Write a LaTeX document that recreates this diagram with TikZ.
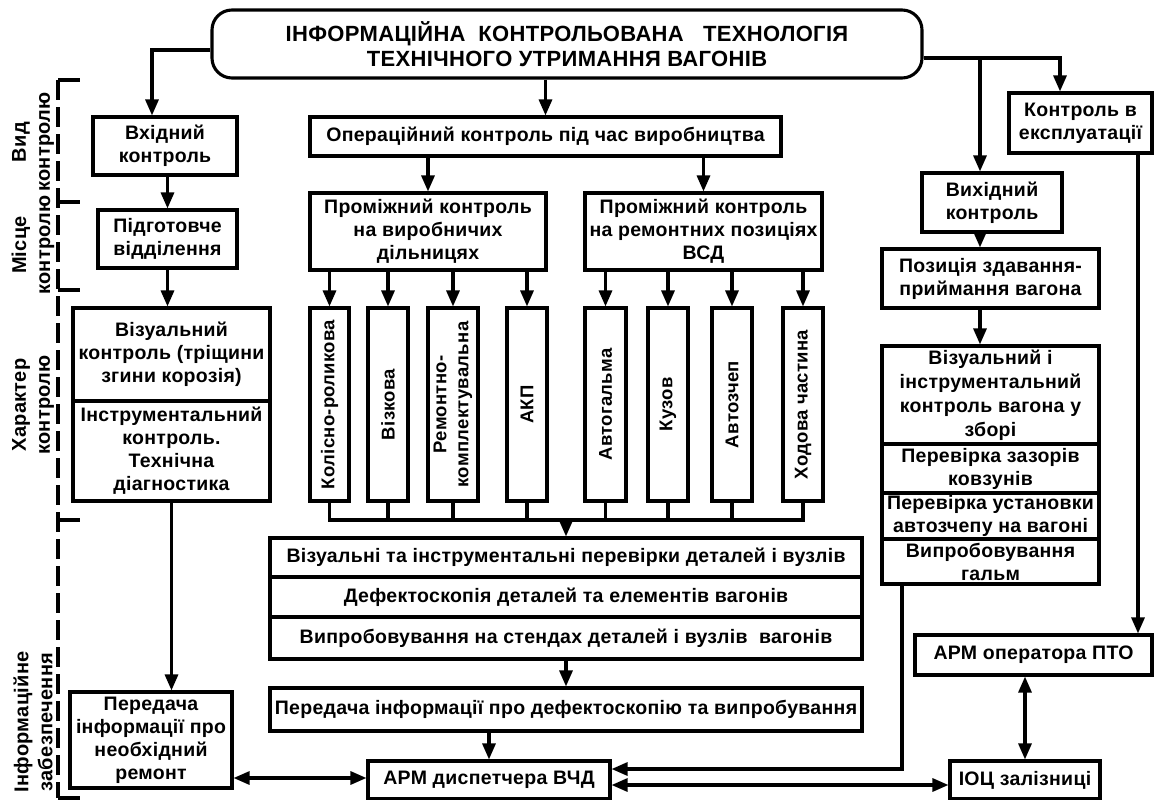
\documentclass[tikz,border=0pt]{standalone}
\usepackage{fontspec}
\setmainfont{Liberation Sans}[LetterSpace=1.5]
\usetikzlibrary{arrows.meta}
\begin{document}
\begin{tikzpicture}[x=1pt,y=-1pt,
  every node/.style={font=\bfseries\fontsize{19.5}{23}\selectfont, inner sep=0pt, align=center},
  box/.style n args={2}{draw, line width=3.1pt, minimum width=#1, minimum height=#2},
  vtext/.style={font=\bfseries\fontsize{18.5}{22}\selectfont},
  conn/.style={line width=3.1pt},
  arr/.style={line width=3.1pt, -{Triangle[length=16pt,width=13pt]}},
  darr/.style={line width=3.1pt, {Triangle[length=16pt,width=13pt]}-{Triangle[length=16pt,width=13pt]}},
  side/.style={rotate=90, font=\bfseries\fontsize{20}{24}\selectfont},
  bracket/.style={line width=3.1pt}
]
\useasboundingbox (0,0) rectangle (1154,800);

% title
\node[box={710pt}{68pt}, rounded corners=20pt, font=\bfseries\fontsize{22}{25}\selectfont] (title) at (567,44)
  {ІНФОРМАЦІЙНА\ \ КОНТРОЛЬОВАНА\ \ \ ТЕХНОЛОГІЯ\\ТЕХНІЧНОГО УТРИМАННЯ ВАГОНІВ};

% left column
\node[box={144pt}{58pt}] (vhid) at (165,146) {Вхідний\\контроль};
\node[box={139pt}{58pt}] (pidg) at (167.5,239) {Підготовче\\відділення};
\node[box={197pt}{93pt}] (viz1) at (171.5,354.5) {Візуальний\\контроль (тріщини\\згини корозія)};
\node[box={197pt}{100pt}] (instr) at (171.5,451) {Інструментальний\\контроль.\\Технічна\\діагностика};
\node[box={162pt}{96pt}] (pered1) at (151,740) {Передача\\інформації про\\необхідний\\ремонт};

% middle column
\node[box={471pt}{39pt}] (oper) at (545.5,136.5) {Операційний контроль під час виробництва};
\node[box={236pt}{77pt}] (prom1) at (428,231.5) {Проміжний контроль\\на виробничих\\дільницях};
\node[box={237pt}{77pt}] (prom2) at (703.5,231.5) {Проміжний контроль\\на ремонтних позиціях\\ВСД};

\node[box={193pt}{39pt}, rotate=90, vtext] (v1) at (329.5,404.5) {Колісно-роликова};
\node[box={193pt}{40pt}, rotate=90, vtext] (v2) at (388,404.5) {Візкова};
\node[box={193pt}{50pt}, rotate=90, vtext] (v3) at (453,404.5) {Ремонтно-\\комплектувальна};
\node[box={193pt}{40pt}, rotate=90, vtext] (v4) at (527,404.5) {АКП};
\node[box={193pt}{41pt}, rotate=90, vtext] (v5) at (605.5,404.5) {Автогальма};
\node[box={193pt}{40pt}, rotate=90, vtext] (v6) at (668,404.5) {Кузов};
\node[box={193pt}{40pt}, rotate=90, vtext] (v7) at (732,404.5) {Автозчеп};
\node[box={193pt}{40pt}, rotate=90, vtext] (v8) at (803,404.5) {Ходова частина};

\node[box={592pt}{39pt}] (s1) at (566,557.5) {Візуальні та інструментальні перевірки деталей і вузлів};
\node[box={592pt}{40pt}] (s2) at (566,597) {Дефектоскопія деталей та елементів вагонів};
\node[box={592pt}{42pt}] (s3) at (566,638) {Випробовування на стендах деталей і вузлів\ \ вагонів};
\node[box={592pt}{43pt}] (pered2) at (566,709.5) {Передача інформації про дефектоскопію та випробування};
\node[box={242pt}{38pt}] (arm1) at (489,780) {АРМ диспетчера ВЧД};

% right column
\node[box={143pt}{60pt}] (ekspl) at (1080.5,123) {Контроль в\\експлуатації};
\node[box={140pt}{59pt}] (vyh) at (992,202.5) {Вихідний\\контроль};
\node[box={217pt}{59pt}] (pozic) at (990.5,278.5) {Позиція здавання-\\приймання вагона};
\node[box={217pt}{98pt}, font=\bfseries\fontsize{19.5}{24}\selectfont] (r1) at (990.5,395) {Візуальний і\\інструментальний\\контроль вагона у\\зборі};
\node[box={217pt}{49pt}] (r2) at (990.5,468.5) {Перевірка зазорів\\ковзунів};
\node[box={217pt}{46pt}] (r3) at (990.5,516) {Перевірка установки\\автозчепу на вагоні};
\node[box={217pt}{45pt}] (r4) at (990.5,561.5) {Випробовування\\гальм};
\node[box={237pt}{40pt}] (armpto) at (1033.5,655) {АРМ оператора ПТО};
\node[box={150pt}{38pt}] (ioc) at (1025,780) {ІОЦ залізниці};

% side labels
\node[side] (lab1) at (33,142) {Вид\\контролю};
\node[side] (lab2) at (33,245) {Місце\\контролю};
\node[side] (lab3) at (33,405) {Характер\\контролю};
\node[side] (lab4) at (33,722) {Інформаційне\\забезпечення};

\coordinate (bt) at (58,80);
\coordinate (bb) at (58,798);
\draw[bracket, dash pattern=on 20pt off 7pt] (bt) -- (bb);
\foreach \yy in {80,202,290,520,798} \draw[bracket] (58,\yy) -- (80,\yy);

% connectors from title
\draw[arr] ([yshift=-6pt]title.west) -| ([xshift=-13pt]vhid.north);
\draw[arr] (oper.north |- title.south) -- (oper.north);
\coordinate (rc) at ([yshift=-14pt]title.east);
\coordinate (colx) at ([xshift=-12pt]vyh.north);
\draw[arr] (rc) -| ([xshift=-20.5pt]ekspl.north);
\draw[arr] (rc -| colx) -- (colx);

% left column
\draw[arr] (pidg.north |- vhid.south) -- (pidg.north);
\draw[arr] (pidg.south) -- (pidg.south |- viz1.north);
\draw[arr] (instr.south) -- (instr.south |- pered1.north);
\draw[darr] ([yshift=2pt]arm1.west -| pered1.east) -- ([yshift=2pt]arm1.west);

% middle
\draw[arr] (prom1.north |- oper.south) -- (prom1.north);
\draw[arr] (prom2.north |- oper.south) -- (prom2.north);
\foreach \v in {v1,v2,v3,v4} \draw[arr] (\v.east |- prom1.south) -- (\v.east);
\foreach \v in {v5,v6,v7,v8} \draw[arr] (\v.east |- prom2.south) -- (\v.east);
\coordinate (bus) at (566,520);
\foreach \v in {v1,v2,v3,v4,v5,v6,v7,v8} \draw[conn] (\v.west) -- (\v.west |- bus);
\draw[conn, line cap=rect] (v1.west |- bus) -- (v8.west |- bus);
\draw[arr] (s1.north |- bus) -- (s1.north);
\draw[arr] (s3.south) -- (pered2.north);
\draw[arr] (arm1.north |- pered2.south) -- (arm1.north);

% right
\draw[arr] (colx |- vyh.south) -- (colx |- pozic.north);
\draw[arr] (colx |- pozic.south) -- (colx |- r1.north);
\draw[arr] ([xshift=-88.5pt]r4.south) |- ([yshift=11pt]arm1.east);
\draw[darr] ([yshift=-5pt]arm1.east) -- ([yshift=-5pt]ioc.west);
\draw[arr] ([xshift=57.5pt]ekspl.south) -- ([xshift=57.5pt]ekspl.south |- armpto.north);
\draw[darr] (ioc.north |- armpto.south) -- (ioc.north);
\end{tikzpicture}
\end{document}
